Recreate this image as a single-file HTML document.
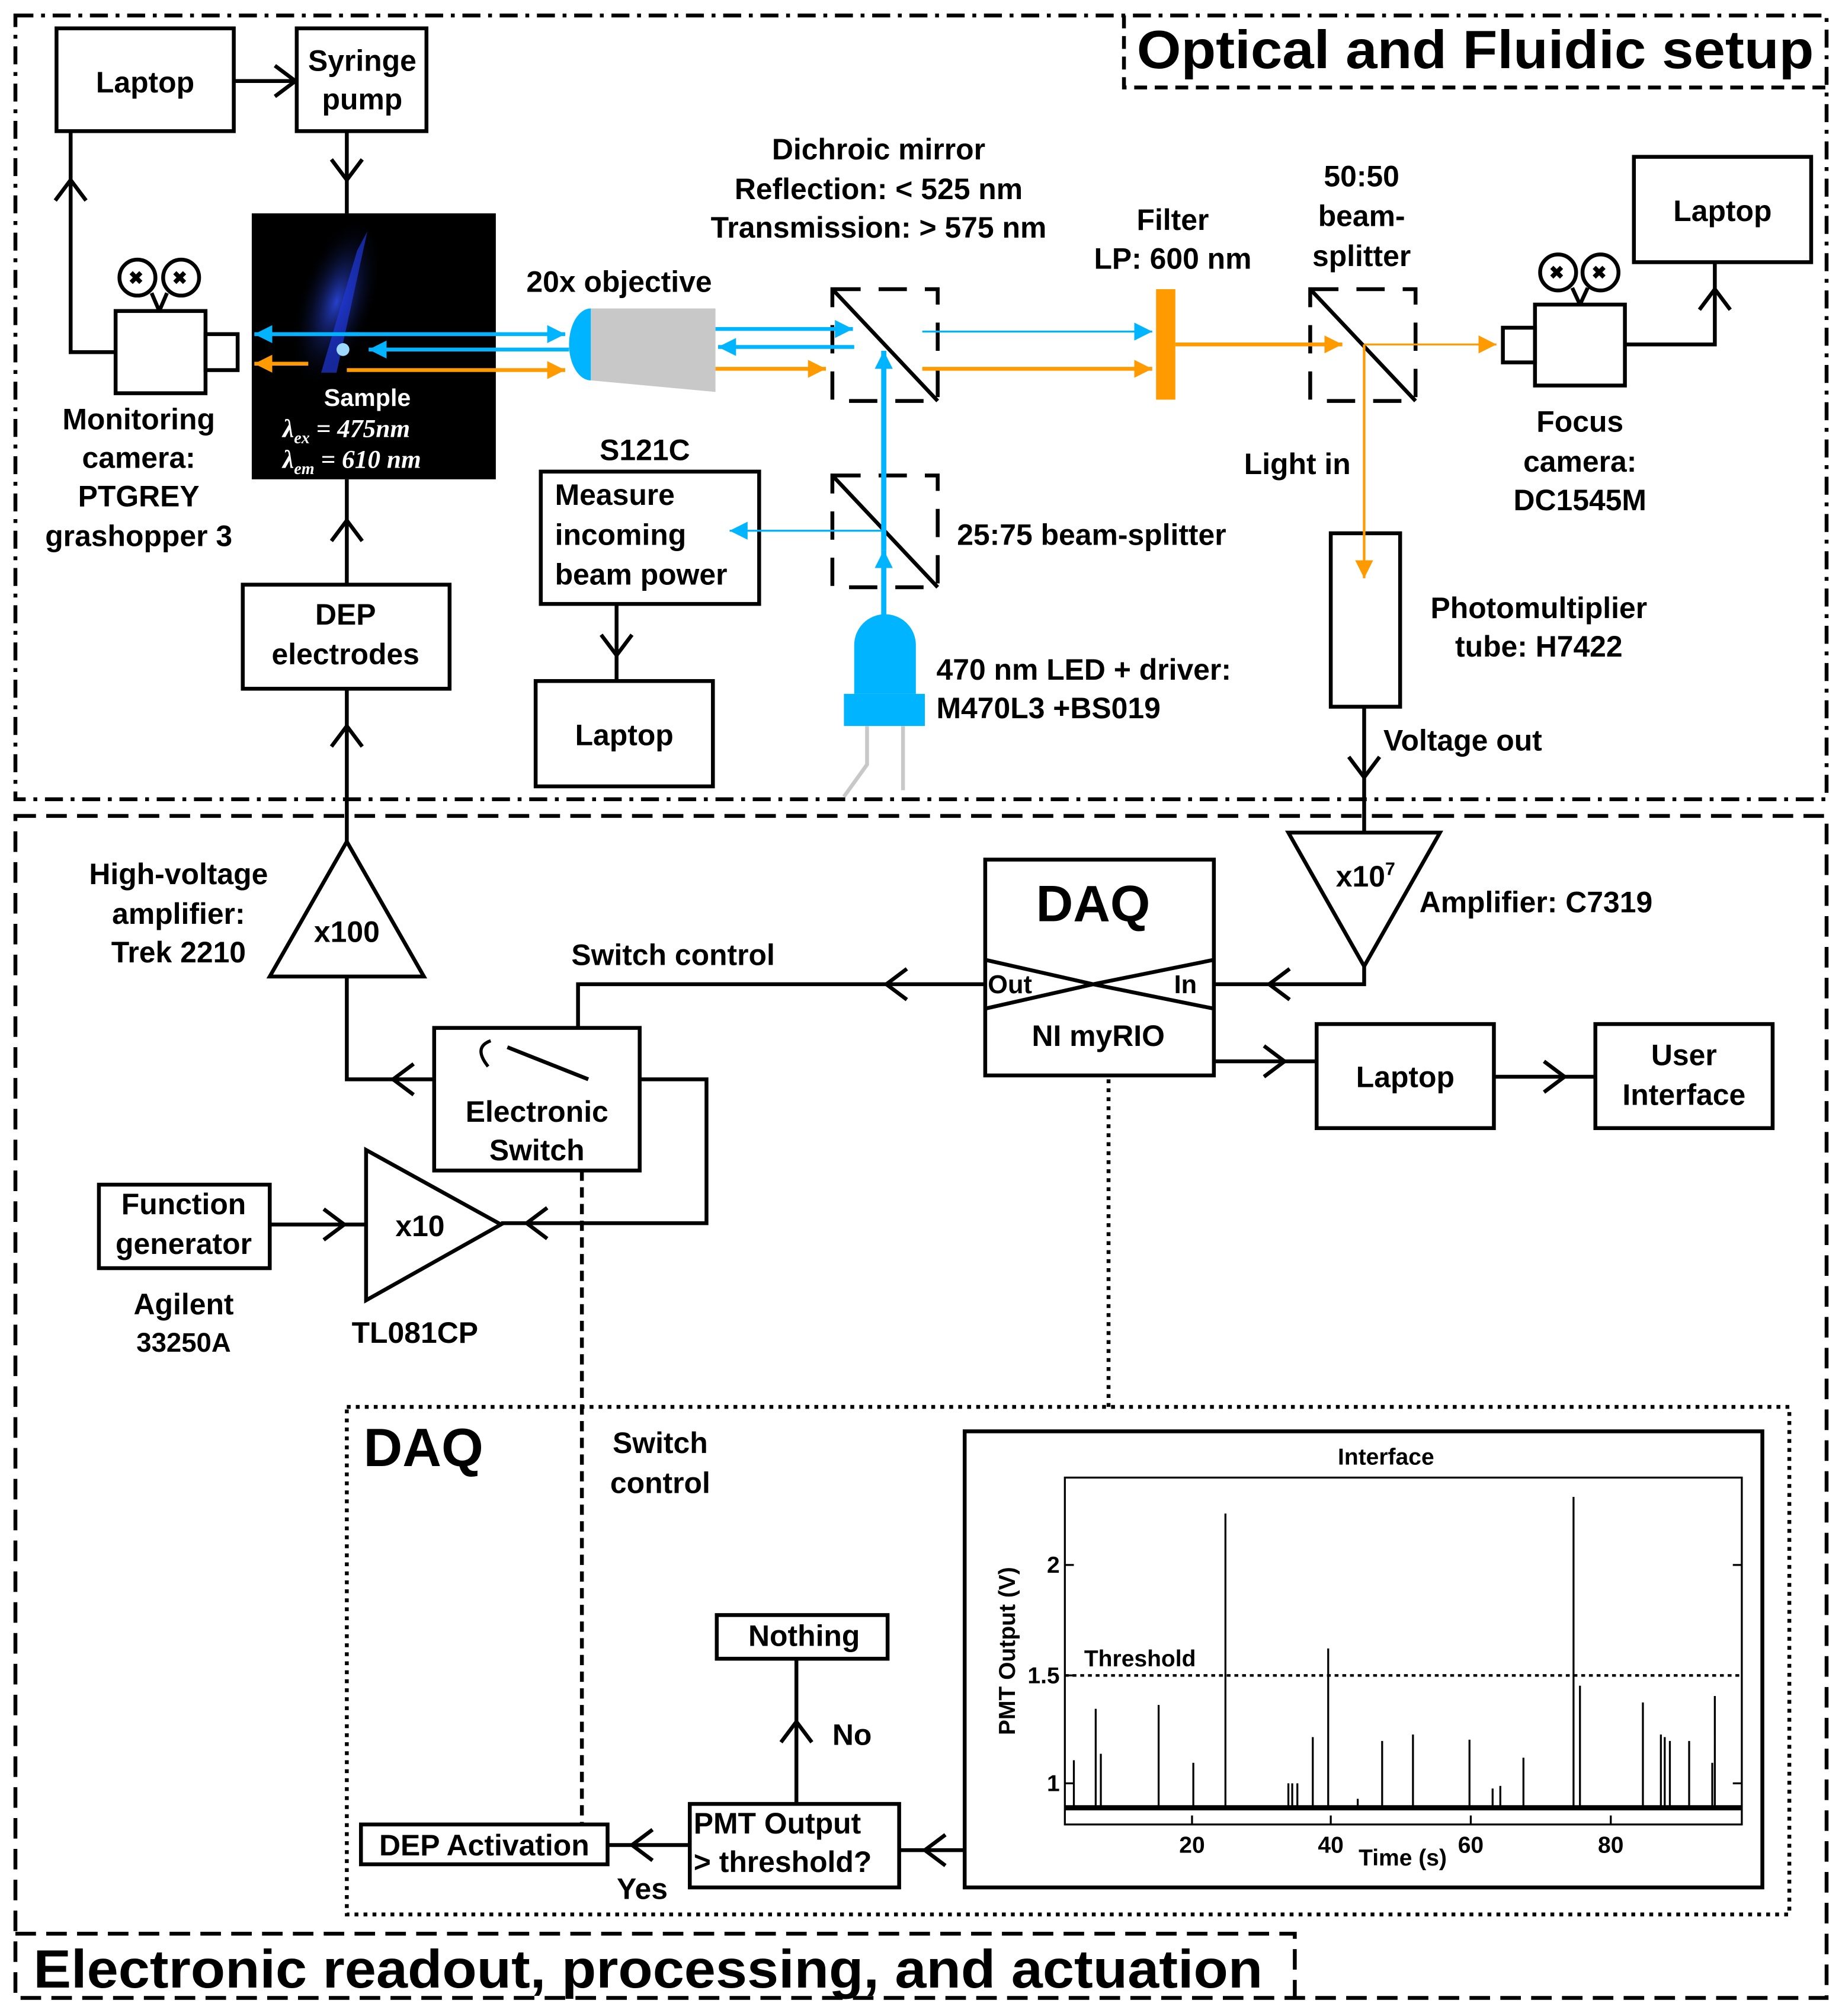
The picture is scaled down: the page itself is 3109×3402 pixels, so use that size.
<!DOCTYPE html>
<html><head><meta charset="utf-8"><style>
html,body{margin:0;padding:0;background:#fff}
svg{display:block}
text{font-family:"Liberation Sans",sans-serif;font-weight:bold;fill:#000}
</style></head><body>
<svg width="3109" height="3402" viewBox="0 0 1434 1569" xmlns="http://www.w3.org/2000/svg">
<defs>
<marker id="ch" markerUnits="userSpaceOnUse" markerWidth="30" markerHeight="30" refX="14" refY="12" viewBox="0 0 30 30" orient="auto" overflow="visible">
<path d="M-2,0 L14,12 L-2,24" fill="none" stroke="#000" stroke-width="3"/></marker>
<marker id="tb" markerUnits="userSpaceOnUse" markerWidth="14" markerHeight="14" refX="10" refY="5" viewBox="0 0 10 10" orient="auto"><path d="M0,0 L10,5 L0,10z" fill="#00b4ff"/></marker>
<marker id="to" markerUnits="userSpaceOnUse" markerWidth="14" markerHeight="14" refX="10" refY="5" viewBox="0 0 10 10" orient="auto"><path d="M0,0 L10,5 L0,10z" fill="#ff9a00"/></marker>
<radialGradient id="glow" cx="0.5" cy="0.5" r="0.5"><stop offset="0" stop-color="#3050ff"/><stop offset="1" stop-color="#000" stop-opacity="0"/></radialGradient>
</defs>
<rect width="1434" height="1569" fill="#fff"/>
<g fill="none" stroke="#000" stroke-width="3">
<rect x="12" y="12" width="1410" height="610" stroke-dasharray="14,6,3,6"/>
<path d="M875,12 V68 H1422" stroke-dasharray="10,6"/>
<rect x="12" y="635" width="1410" height="920" stroke-dasharray="16,8"/>
<path d="M12,1505 H1008 V1555" stroke-dasharray="16,8"/>
</g>
<text x="885" y="53" font-size="42" textLength="527" lengthAdjust="spacingAndGlyphs">Optical and Fluidic setup</text>
<text x="26" y="1547" font-size="42" textLength="957" lengthAdjust="spacingAndGlyphs">Electronic readout, processing, and actuation</text>

<g fill="none" stroke="#000" stroke-width="3">
<rect x="44" y="22" width="138" height="80"/>
<rect x="231" y="22" width="101" height="80"/>
<rect x="1272" y="122" width="138" height="82"/>
<rect x="189" y="455" width="161" height="81"/>
<rect x="421" y="367" width="170" height="103"/>
<rect x="417" y="530" width="138" height="82"/>
<rect x="1036" y="415" width="54" height="135"/>
<rect x="767" y="669" width="178" height="168"/>
<rect x="1025" y="797" width="138" height="81"/>
<rect x="1242" y="797" width="138" height="81"/>
<rect x="338" y="800" width="160" height="111"/>
<rect x="77" y="922" width="133" height="65"/>
<rect x="558" y="1257" width="133" height="34"/>
<rect x="537" y="1404" width="163" height="65"/>
<rect x="281" y="1420" width="192" height="31"/>
<rect x="751" y="1114" width="621" height="355"/>
<polygon points="1003,648 1121,648 1062,752"/>
<polygon points="210,760 330,760 270,655"/>
<polygon points="285,895 285,1012 390,953"/>
<rect x="90" y="242" width="70" height="64"/><rect x="160" y="260" width="25" height="28"/>
<circle cx="107" cy="216" r="14"/><circle cx="141" cy="216" r="14"/><path d="M118,228 L124,242 M130,228 L124,242"/>
<rect x="1195" y="237" width="70" height="63"/><rect x="1170" y="255" width="25" height="27"/>
<circle cx="1213" cy="212" r="14"/><circle cx="1246" cy="212" r="14"/><path d="M1224,224 L1230,237 M1236,224 L1230,237"/>
<g stroke-dasharray="22,14"><rect x="648" y="225" width="82" height="87"/><rect x="1020" y="225" width="82" height="87"/><rect x="648" y="370" width="82" height="87"/></g>
<path d="M648,225 L730,312 M1020,225 L1102,312 M648,370 L730,457"/>
<path d="M767,747 L851,766 L945,747 M767,785 L851,766 L945,785"/>
<path d="M395,815 L458,840"/><path d="M380,830 Q368,815 382,810" stroke-width="2.5"/>
</g>
<g font-size="14" fill="#000"><text x="100" y="221" font-size="14">✖</text><text x="134" y="221" font-size="14">✖</text><text x="1206" y="217" font-size="14">✖</text><text x="1239" y="217" font-size="14">✖</text></g>

<g fill="none" stroke="#000" stroke-width="3">
<path d="M182,63 H230" marker-end="url(#ch)"/>
<path d="M270,102 V140" marker-end="url(#ch)"/><path d="M270,140 V166"/>
<path d="M90,274 H55 V140" marker-end="url(#ch)"/><path d="M55,140 V102"/>
<path d="M270,455 V405" marker-end="url(#ch)"/><path d="M270,405 V373"/>
<path d="M270,655 V565" marker-end="url(#ch)"/><path d="M270,565 V536"/>
<path d="M480,470 V510" marker-end="url(#ch)"/><path d="M480,510 V530"/>
<path d="M1265,268 H1335 V225" marker-end="url(#ch)"/><path d="M1335,225 V204"/>
<path d="M1062,550 V605" marker-end="url(#ch)"/><path d="M1062,605 V648"/>
<path d="M1062,752 V766 H988" marker-end="url(#ch)"/><path d="M988,766 H945"/>
<path d="M767,766 H690" marker-end="url(#ch)"/><path d="M690,766 H450 V800"/>
<path d="M338,840 H306" marker-end="url(#ch)"/><path d="M306,840 H270 V760"/>
<path d="M498,840 H550 V952 H410" marker-end="url(#ch)"/><path d="M410,952 H390"/>
<path d="M210,953 H268" marker-end="url(#ch)"/><path d="M268,953 H285"/>
<path d="M945,826 H1000" marker-end="url(#ch)"/><path d="M1000,826 H1025"/>
<path d="M1163,838 H1218" marker-end="url(#ch)"/><path d="M1218,838 H1242"/>
<path d="M620,1404 V1340" marker-end="url(#ch)"/><path d="M620,1340 V1291"/>
<path d="M751,1440 H720" marker-end="url(#ch)"/><path d="M720,1440 H700"/>
<path d="M537,1436 H492" marker-end="url(#ch)"/><path d="M492,1436 H473"/>
<path d="M863,840 V1095" stroke-dasharray="3,4"/>
<path d="M453,911 V1420" stroke-dasharray="8,5"/>
<rect x="270" y="1095" width="1123" height="395" stroke-dasharray="3,4"/>
</g>

<rect x="196" y="166" width="190" height="207" fill="#000"/>
<ellipse cx="262" cy="235" rx="30" ry="70" fill="url(#glow)" opacity="0.8" transform="rotate(18 262 235)"/>
<path d="M250,290 L278,195 L286,180 L262,290z" fill="#2038d8" opacity="0.7"/>
<circle cx="267" cy="272" r="5" fill="#9fd8ff"/>
<text x="286" y="316" font-size="19" text-anchor="middle" style="fill:#fff">Sample</text>
<text x="220" y="340" font-size="20" font-style="italic" font-weight="normal" style="fill:#fff;font-family:'Liberation Serif',serif">λ<tspan font-size="13" dy="5">ex</tspan><tspan dy="-5"> = 475nm</tspan></text>
<text x="220" y="364" font-size="20" font-style="italic" font-weight="normal" style="fill:#fff;font-family:'Liberation Serif',serif">λ<tspan font-size="13" dy="5">em</tspan><tspan dy="-5"> = 610 nm</tspan></text>

<path d="M460,240 A17,28 0 0 0 460,296z" fill="#00b4ff"/>
<path d="M460,240 L557,240 L557,305 L460,296z" fill="#c8c8c8"/>
<g fill="none" stroke-width="3">
<path d="M270,260 H440" stroke="#00b4ff" marker-end="url(#tb)"/>
<path d="M280,260 H198" stroke="#00b4ff" marker-end="url(#tb)"/>
<path d="M443,272 H287" stroke="#00b4ff" marker-end="url(#tb)"/>
<path d="M240,283 H198" stroke="#ff9a00" marker-end="url(#to)"/>
<path d="M270,288 H440" stroke="#ff9a00" marker-end="url(#to)"/>
<path d="M557,256 H664" stroke="#00b4ff" marker-end="url(#tb)"/>
<path d="M665,270 H559" stroke="#00b4ff" marker-end="url(#tb)"/>
<path d="M557,287 H643" stroke="#ff9a00" marker-end="url(#to)"/>
<path d="M718,258 H897" stroke="#00b4ff" stroke-width="1.5" marker-end="url(#tb)"/>
<path d="M718,287 H897" stroke="#ff9a00" marker-end="url(#to)"/>
<path d="M915,268 H1045" stroke="#ff9a00" marker-end="url(#to)"/>
<path d="M1062,268 H1165" stroke="#ff9a00" stroke-width="1.5" marker-end="url(#to)"/>
<path d="M1062,268 V450" stroke="#ff9a00" stroke-width="2" marker-end="url(#to)"/>
<path d="M688,480 V428" stroke="#00b4ff" stroke-width="4" marker-end="url(#tb)"/>
<path d="M688,428 V273" stroke="#00b4ff" stroke-width="4" marker-end="url(#tb)"/>
<path d="M688,413 H568" stroke="#00b4ff" stroke-width="1.5" marker-end="url(#tb)"/>
</g>
<rect x="900" y="225" width="15" height="86" fill="#ff9a00"/>
<path d="M665,540 V502 A24,24 0 0 1 713,502 V540z" fill="#00b4ff"/>
<rect x="657" y="540" width="63" height="25" fill="#00b4ff"/>
<path d="M675,565 V595 L657,620 M703,565 V615" stroke="#c8c8c8" stroke-width="3" fill="none"/>

<g font-size="23" text-anchor="middle">
<text x="113" y="72">Laptop</text>
<text x="282" y="55">Syringe</text><text x="282" y="85">pump</text>
<text x="1341" y="172">Laptop</text>
<text x="108" y="334">Monitoring</text><text x="108" y="364">camera:</text><text x="108" y="394">PTGREY</text><text x="108" y="425">grashopper 3</text>
<text x="269" y="486">DEP</text><text x="269" y="517">electrodes</text>
<text x="502" y="358">S121C</text>
<text x="486" y="580">Laptop</text>
<text x="482" y="227">20x objective</text>
<text x="684" y="124">Dichroic mirror</text><text x="684" y="155">Reflection: &lt; 525 nm</text><text x="684" y="185">Transmission: &gt; 575 nm</text>
<text x="913" y="179">Filter</text><text x="913" y="209">LP: 600 nm</text>
<text x="1060" y="145">50:50</text><text x="1060" y="176">beam-</text><text x="1060" y="207">splitter</text>
<text x="1230" y="336">Focus</text><text x="1230" y="367">camera:</text><text x="1230" y="397">DC1545M</text>
<text x="1010" y="369">Light in</text>
<text x="1198" y="481">Photomultiplier</text><text x="1198" y="511">tube: H7422</text>
<text x="139" y="688">High-voltage</text><text x="139" y="719">amplifier:</text><text x="139" y="749">Trek 2210</text>
<text x="270" y="733">x100</text>
<text x="524" y="751">Switch control</text>
<text x="418" y="873">Electronic</text><text x="418" y="903">Switch</text>
<text x="327" y="962">x10</text>
<text x="143" y="945">Function</text><text x="143" y="976">generator</text>
<text x="143" y="1023">Agilent</text><text x="143" y="1052" font-size="21">33250A</text>
<text x="323" y="1045">TL081CP</text>
<text x="855" y="814">NI myRIO</text>
<text x="1094" y="846">Laptop</text>
<text x="1311" y="829">User</text><text x="1311" y="860">Interface</text>
<text x="514" y="1131">Switch</text><text x="514" y="1162">control</text>
<text x="626" y="1281">Nothing</text>
<text x="500" y="1478">Yes</text>
<text x="377" y="1444">DEP Activation</text>
</g>
<g font-size="23">
<text x="432" y="393">Measure</text><text x="432" y="424">incoming</text><text x="432" y="455">beam power</text>
<text x="745" y="424">25:75 beam-splitter</text>
<text x="729" y="529">470 nm LED + driver:</text><text x="729" y="559">M470L3 +BS019</text>
<text x="1077" y="584">Voltage out</text>
<text x="1105" y="710">Amplifier: C7319</text>
<text x="1040" y="690">x10<tspan font-size="14" dy="-9">7</tspan></text>
<text x="769" y="773" font-size="20">Out</text><text x="914" y="773" font-size="20">In</text>
<text x="648" y="1358">No</text>
<text x="540" y="1427">PMT Output</text><text x="540" y="1457">&gt; threshold?</text>
</g>
<text x="851" y="717" font-size="40" text-anchor="middle">DAQ</text>
<text x="283" y="1141" font-size="42">DAQ</text>

<rect x="829" y="1150" width="527" height="270" fill="none" stroke="#000" stroke-width="1.5"/>
<text x="1079" y="1140" font-size="18" text-anchor="middle">Interface</text>
<text x="790" y="1285" font-size="18" text-anchor="middle" transform="rotate(-90 790 1285)">PMT Output (V)</text>
<g font-size="18" text-anchor="middle"><text x="928" y="1442">20</text><text x="1036" y="1442">40</text><text x="1145" y="1442">60</text><text x="1254" y="1442">80</text><text x="1092" y="1452">Time (s)</text></g>
<g font-size="18" text-anchor="end"><text x="825" y="1224">2</text><text x="825" y="1310">1.5</text><text x="825" y="1394">1</text></g>
<text x="844" y="1297" font-size="18">Threshold</text>
<path d="M829,1304 H1356" stroke="#000" stroke-width="2" stroke-dasharray="3,3"/>
<g stroke="#000" stroke-width="1.5" fill="none">
<path d="M928,1420 v-7 M1036,1420 v-7 M1145,1420 v-7 M1254,1420 v-7 M829,1218 h7 M829,1304 h7 M829,1388 h7 M1356,1218 h-7 M1356,1388 h-7"/>
<path d="M836,1407V1370M853,1407V1330M857,1407V1365M902,1407V1327M929,1407V1372M954,1407V1178M1003,1407V1388M1006,1407V1388M1010,1407V1388M1022,1407V1352M1034,1407V1283M1057,1407V1400M1076,1407V1355M1100,1407V1350M1144,1407V1354M1162,1407V1392M1168,1407V1390M1186,1407V1368M1225,1407V1165M1230,1407V1312M1279,1407V1325M1293,1407V1350M1296,1407V1352M1300,1407V1355M1315,1407V1355M1333,1407V1372M1335,1407V1320"/>
</g>
<path d="M829,1407 H1356" stroke="#000" stroke-width="4"/>
</svg>
</body></html>
